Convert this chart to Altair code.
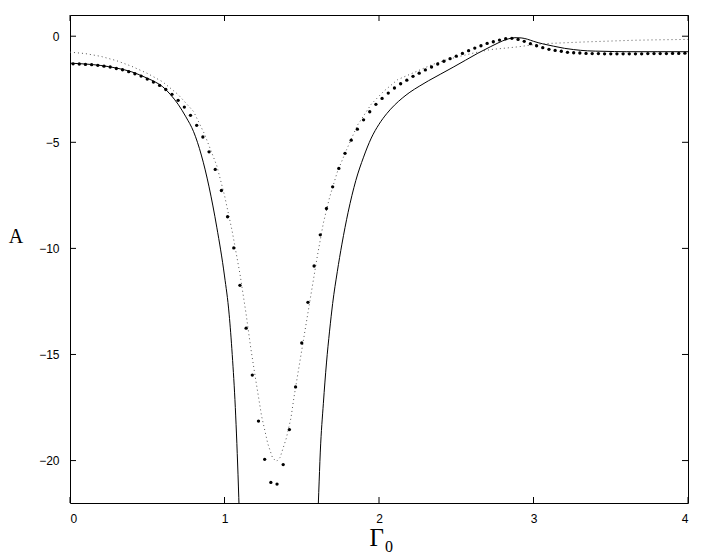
import altair as alt
import pandas as pd

# ---- data ----
solid_x = [0.00, 0.10, 0.20, 0.30, 0.40, 0.50, 0.55, 0.60, 0.65, 0.70, 0.75, 0.80, 0.85,
           0.90, 0.95, 1.00, 1.03, 1.05, 1.07, 1.08, 1.09, 1.10,
           None,
           1.60, 1.61, 1.62, 1.64, 1.66, 1.68, 1.70, 1.73, 1.76, 1.80, 1.85, 1.90, 1.95,
           2.00, 2.05, 2.10, 2.15, 2.20, 2.26, 2.32, 2.40, 2.48, 2.56, 2.64, 2.72, 2.77,
           2.80, 2.84, 2.88, 2.92, 2.96, 3.00, 3.06, 3.13, 3.20, 3.26, 3.35, 3.45, 3.60,
           3.80, 4.00]
solid_y = [-1.27, -1.31, -1.38, -1.50, -1.68, -1.98, -2.15, -2.38, -2.75, -3.21, -3.80,
           -4.50, -5.60, -7.10, -9.00, -11.30, -13.10, -15.00, -17.50, -19.20, -21.20, -23.50,
           None,
           -23.50, -21.50, -19.60, -17.30, -15.40, -13.90, -12.60, -11.10, -9.80, -8.30,
           -6.80, -5.70, -4.80, -4.15, -3.65, -3.25, -2.92, -2.64, -2.36, -2.10, -1.78,
           -1.46, -1.13, -0.80, -0.50, -0.32, -0.22, -0.12, -0.07, -0.08, -0.14, -0.24,
           -0.36, -0.47, -0.57, -0.63, -0.69, -0.71, -0.73, -0.73, -0.73]

dotted_x = [0.00, 0.10, 0.20, 0.30, 0.40, 0.50, 0.60, 0.70, 0.80, 0.87, 0.95, 1.00, 1.05,
            1.10, 1.14, 1.17, 1.20, 1.24, 1.28, 1.31, 1.335, 1.36, 1.40, 1.43, 1.45, 1.50,
            1.55, 1.60, 1.64, 1.68, 1.73, 1.79, 1.86, 1.95, 2.03, 2.12, 2.23, 2.34, 2.42,
            2.51, 2.62, 2.72, 2.82, 2.90, 3.00, 3.10, 3.20, 3.33, 3.45, 3.65, 3.80, 4.00]
dotted_y = [-0.75, -0.82, -0.95, -1.15, -1.42, -1.75, -2.15, -2.75, -3.55, -4.60, -6.10,
            -7.50, -9.20, -11.20, -13.10, -14.70, -16.10, -17.90, -19.20, -19.85, -20.05,
            -19.85, -18.95, -18.00, -17.00, -14.80, -12.60, -10.40, -8.80, -7.60, -6.40,
            -5.35, -4.20, -3.20, -2.60, -2.05, -1.70, -1.35, -1.15, -0.97, -0.78, -0.63,
            -0.56, -0.50, -0.40, -0.34, -0.31, -0.27, -0.24, -0.19, -0.17, -0.15]

dots_x = [0.02, 0.06, 0.10, 0.14, 0.18, 0.22, 0.26, 0.30, 0.34, 0.38,
          0.42, 0.46, 0.50, 0.54, 0.58, 0.62, 0.66, 0.70, 0.74, 0.78,
          0.82, 0.86, 0.90, 0.94, 0.98, 1.02, 1.06, 1.10, 1.14, 1.18,
          1.22, 1.26, 1.30, 1.34, 1.38, 1.42, 1.46, 1.50, 1.54, 1.58,
          1.62, 1.66, 1.70, 1.74, 1.78, 1.82, 1.86, 1.90, 1.94, 1.98,
          2.02, 2.06, 2.10, 2.14, 2.18, 2.22, 2.26, 2.30, 2.34, 2.38,
          2.42, 2.46, 2.50, 2.54, 2.58, 2.62, 2.66, 2.70, 2.74, 2.78,
          2.82, 2.86, 2.90, 2.94, 2.98, 3.02, 3.06, 3.10, 3.14, 3.18,
          3.22, 3.26, 3.30, 3.34, 3.38, 3.42, 3.46, 3.50, 3.54, 3.58,
          3.62, 3.66, 3.70, 3.74, 3.78, 3.82, 3.86, 3.90, 3.94, 3.98]
dots_y = [-1.30, -1.31, -1.33, -1.34, -1.37, -1.41, -1.45, -1.52, -1.58, -1.67,
          -1.77, -1.88, -2.02, -2.16, -2.32, -2.51, -2.74, -3.02, -3.34, -3.73,
          -4.20, -4.75, -5.45, -6.28, -7.27, -8.51, -9.98, -11.74, -13.76, -15.97,
          -18.14, -19.94, -21.03, -21.11, -20.19, -18.54, -16.53, -14.46, -12.54, -10.83,
          -9.36, -8.12, -7.10, -6.23, -5.52, -4.90, -4.38, -3.94, -3.56, -3.21,
          -2.93, -2.68, -2.44, -2.24, -2.07, -1.89, -1.74, -1.59, -1.45, -1.31,
          -1.18, -1.06, -0.94, -0.81, -0.68, -0.56, -0.45, -0.34, -0.26, -0.18,
          -0.12, -0.10, -0.15, -0.24, -0.35, -0.45, -0.54, -0.62, -0.67, -0.71,
          -0.76, -0.78, -0.79, -0.81, -0.82, -0.82, -0.83, -0.83, -0.83, -0.83,
          -0.83, -0.83, -0.83, -0.82, -0.82, -0.82, -0.82, -0.81, -0.81, -0.80]

x_ticks = [0, 1, 2, 3, 4]
y_ticks = [0, -5, -10, -15, -20]
x_domain = [0, 4]
y_domain = [-22, 1]

W, H = 618, 488
TICK = 6

solid_df = pd.DataFrame({"x": solid_x, "y": solid_y, "i": range(len(solid_x))})
dotted_df = pd.DataFrame({"x": dotted_x, "y": dotted_y, "i": range(len(dotted_x))})
dots_df = pd.DataFrame({"x": dots_x, "y": dots_y})
xt_df = pd.DataFrame({"t": x_ticks})
yt_df = pd.DataFrame({"t": y_ticks})

xs = alt.Scale(domain=x_domain, nice=False, zero=False)
ys = alt.Scale(domain=y_domain, nice=False, zero=False)

xaxis = alt.Axis(values=x_ticks, format="d", grid=False, ticks=False, tickSize=0,
                 domain=False, labelFont="Liberation Sans", labelFontSize=12,
                 labelColor="black", labelPadding=10, title=None)
yaxis = alt.Axis(values=y_ticks, format="d", grid=False, ticks=False, tickSize=0,
                 domain=False, labelFont="Liberation Sans", labelFontSize=12,
                 labelColor="black", labelPadding=11, title=None)

solid = alt.Chart(solid_df).mark_line(color="black", strokeWidth=1, clip=True,
                                       interpolate="monotone").encode(
    x=alt.X("x:Q", scale=xs, axis=xaxis),
    y=alt.Y("y:Q", scale=ys, axis=yaxis),
    order="i:Q",
)

dotted = alt.Chart(dotted_df).mark_line(color="#555555", strokeWidth=1, strokeDash=[1, 3],
                                         clip=True).encode(
    x=alt.X("x:Q", scale=xs),
    y=alt.Y("y:Q", scale=ys),
    order="i:Q",
)

dots = alt.Chart(dots_df).mark_circle(color="black", size=11, opacity=1).encode(
    x=alt.X("x:Q", scale=xs),
    y=alt.Y("y:Q", scale=ys),
)

tick_style = dict(color="black", strokeWidth=1)
xt_bottom = alt.Chart(xt_df).mark_rule(**tick_style).encode(
    x=alt.X("t:Q", scale=xs), y=alt.value(H), y2=alt.value(H - TICK))
xt_top = alt.Chart(xt_df).mark_rule(**tick_style).encode(
    x=alt.X("t:Q", scale=xs), y=alt.value(0), y2=alt.value(TICK))
yt_left = alt.Chart(yt_df).mark_rule(**tick_style).encode(
    y=alt.Y("t:Q", scale=ys), x=alt.value(0), x2=alt.value(TICK))
yt_right = alt.Chart(yt_df).mark_rule(**tick_style).encode(
    y=alt.Y("t:Q", scale=ys), x=alt.value(W), x2=alt.value(W - TICK))

title_df = pd.DataFrame({"s": ["A"]})
ytitle = alt.Chart(title_df).mark_text(font="Liberation Serif", fontSize=20, color="black",
                                      align="center", baseline="middle").encode(
    text="s:N", x=alt.value(-54), y=alt.value(222))

gamma_df = pd.DataFrame({"s": ["Γ"]})
sub_df = pd.DataFrame({"s": ["0"]})
xtitle = alt.Chart(gamma_df).mark_text(font="Liberation Serif", fontSize=25, color="black",
                                      align="right", baseline="alphabetic").encode(
    text="s:N", x=alt.value(314), y=alt.value(H + 43))
xsub = alt.Chart(sub_df).mark_text(font="Liberation Serif", fontSize=16, color="black",
                                  align="left", baseline="alphabetic").encode(
    text="s:N", x=alt.value(315), y=alt.value(H + 49))

chart = alt.layer(solid, dotted, dots, xt_bottom, xt_top, yt_left, yt_right,
                  ytitle, xtitle, xsub).properties(
    width=W, height=H,
    padding={"left": 0, "top": 6, "right": 5, "bottom": 0},
).configure_view(stroke="black", strokeWidth=1)

chart.save("out.html", embed_options={"renderer": "svg", "actions": False})
